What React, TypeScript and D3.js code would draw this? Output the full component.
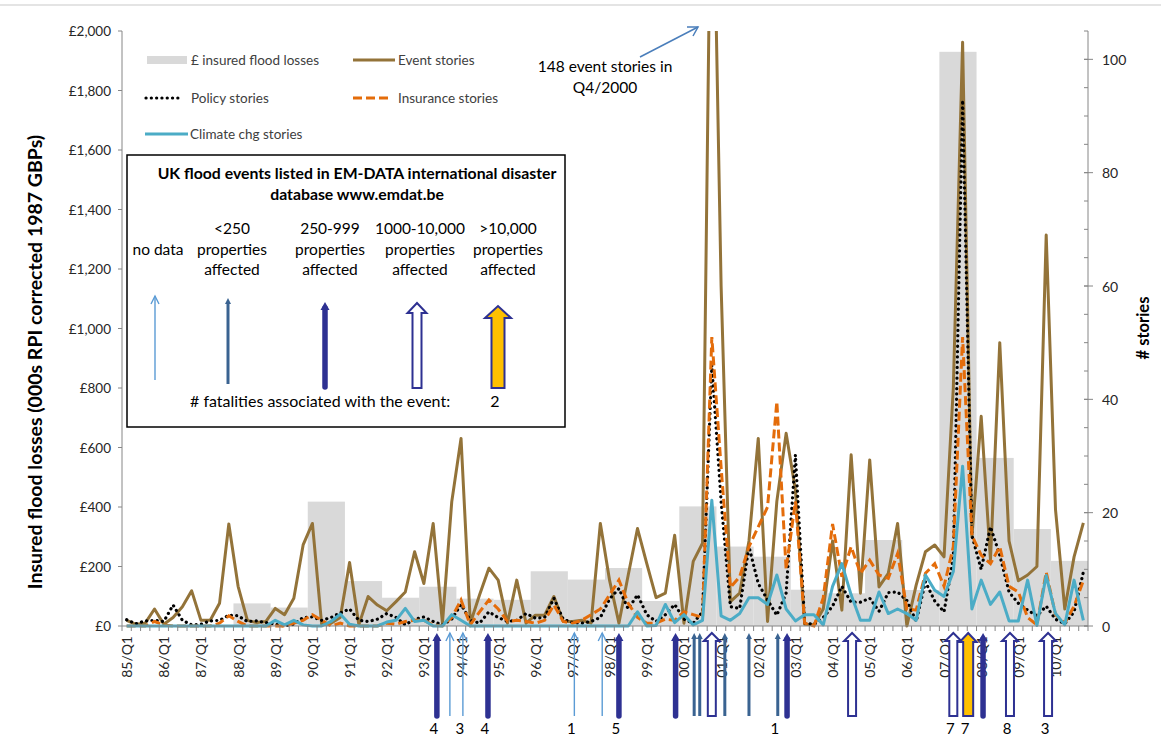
import React from "react";
import * as d3 from "d3";

const W = 1161;
const H = 756;

// ---- categories ----
const years = d3.range(1985, 2011);
const quarterLabels: string[] = years.flatMap((y) =>
  [1, 2, 3, 4].map((q) => `${String(y % 100).padStart(2, "0")}/Q${q}`)
);

// ---- axis ticks ----
const leftTicks = [0, 200, 400, 600, 800, 1000, 1200, 1400, 1600, 1800, 2000];
const rightTicks = [0, 20, 40, 60, 80, 100];
const rightMinor = d3.range(0, 106, 5);

// ---- annual insured flood losses (000s GBP, 1987 prices), 1985..2010 ----
const annualLosses: (number | null)[] = [
  null, null, null, 76, 62, 418, 151, 95, 132, 92, 88, 184, 156, 195, 84,
  402, 267, 233, 122, 110, 289, 121, 1930, 565, 326, 219,
];

// ---- quarterly story counts 85/Q1 .. 10/Q4 ----
const eventStories = [
  1, 0.3, 0.5, 3, 0.3, 1.5, 3.4, 6.2, 1, 1,
  4, 18, 7, 1, 0.6, 0.8, 3.1, 2, 4.9, 14.3,
  18.1, 0.2, 0.5, 1.5, 11.2, 0.2, 5.2, 3.7, 2.7, 4.3,
  6, 13.1, 7.5, 18.1, 0.5, 21.9, 33.1, 0.5, 5.5, 10.2,
  8.1, 0.5, 8.1, 0.5, 1.9, 1.9, 5.2, 0.8, 0.8, 1,
  0.5, 18.1, 8, 0.5, 9, 17.2, 11, 5, 5.8, 16,
  0.5, 11.4, 14.6, 148, 60, 4.3, 5.8, 15, 33.1, 0.8,
  22, 34, 24, 0.3, 0.2, 3, 15, 2.8, 30.2, 5.8,
  29.3, 6.9, 9.3, 18.1, 0, 7.2, 13.1, 14.3, 12.2, 42,
  103, 15.7, 37, 11.6, 50, 15, 8, 9, 10.5, 69,
  20.6, 3, 12.2, 18.2,
];
const policyStories = [
  1.1, 0.4, 0.9, 1, 0.8, 3.7, 1, 0.2, 0.3, 0.9,
  1, 1.9, 1.8, 0.8, 0.9, 0.6, 0.3, 0, 0.3, 1.5,
  1.6, 1, 1.5, 2.3, 3, 1, 0.8, 1.2, 2.2, 1.5,
  0.2, 1.2, 1.6, 0.8, 0.2, 1.2, 3.8, 1, 0.5, 2.5,
  1.5, 0.8, 1, 2.2, 1.4, 1.5, 4.9, 1.2, 0.6, 0.5,
  0.8, 1.5, 4.8, 6.6, 3, 5.5, 2, 0.8, 2, 3.8,
  1.2, 0.5, 2.5, 46, 22, 3.4, 3.1, 14, 7.5, 4.6,
  1.9, 5.8, 30.2, 0.5, 0.3, 1.5, 3.5, 7, 4.2, 4.2,
  4.9, 2.6, 5.9, 6, 4.5, 0.8, 7.8, 4.4, 2.5, 12,
  92.8, 16, 10, 17.5, 12.5, 6, 4, 2.8, 1.8, 3.5,
  1.2, 0.4, 2.5, 9.5,
];
const insuranceStories = [
  0, 0, 0, 0.8, 0.2, 0, 0, 0, 0, 0,
  0.5, 1.8, 0.8, 0, 0, 0, 0, 0, 0.5, 1,
  2, 1, 0, 0.5, 0, 0, 0, 0, 0.5, 0.3,
  0.8, 1, 1, 0.2, 0, 1.5, 4.6, 0.2, 2.5, 4.6,
  3, 0.8, 1, 0.8, 0.5, 1, 3.7, 0.8, 0.5, 1,
  2, 3, 5.5, 8.1, 4, 1.5, 0.5, 0.5, 1.2, 1,
  2.5, 2, 1.5, 51, 28, 6.8, 8.7, 14, 17.5, 21,
  39.6, 10, 22, 0.5, 0, 5, 18, 8.7, 14, 9.3,
  11.6, 9, 8.4, 12.8, 3, 2.8, 9.3, 11, 7, 14,
  51, 16, 12.5, 11, 14, 7, 6, 1.5, 0.2, 9.5,
  2, 0.5, 3.5, 8,
];
const climateStories = [
  0, 0, 0, 0, 0, 0, 0, 0, 0, 0,
  0, 0, 0, 0, 0, 0, 1, 0.2, 1, 0.2,
  0, 0, 0.8, 2.1, 0.3, 0, 0, 0, 0.7, 1,
  3.1, 0.8, 1, 0, 0, 2, 1, 0, 0, 0,
  0, 0, 0, 0, 0, 0, 0, 0, 0, 0,
  0, 0, 0, 0, 0, 2.5, 0, 0.1, 3.8, 0.6,
  2, 0.2, 1, 22.2, 1.8, 1, 2.2, 5, 5, 3.8,
  9, 3, 0.9, 2, 2, 0.2, 7, 11, 5.5, 1,
  1, 6, 2.2, 3, 2.2, 1, 9, 6.3, 5.2, 9.6,
  28.2, 3, 8.1, 3.8, 6, 0.9, 0.9, 8.1, 0.1, 8.9,
  2.2, 0.2, 8.1, 1,
];

// ---- EM-DAT flood events (position in quarters from 85/Q1) ----
const eventPos = [33.4, 34.8, 36.2, 38.9, 48.2, 51.2, 53.0, 59.1, 61.1, 61.7, 63.0, 64.4, 67.0, 70.1, 71.1, 78.1, 89.0, 90.6, 92.2, 95.1, 99.2];
const eventType = ["m", "n", "n", "m", "n", "n", "m", "m", "s", "s", "l", "s", "s", "s", "m", "l", "l", "x", "m", "l", "l"];
const eventDeaths = ["4", "", "3", "4", "1", "", "5", "", "", "", "", "", "", "1", "", "", "7", "7", "", "8", "3"];

// ---- legend texts ----
const legendCats = [
  { t: "n", lines: ["no data"] },
  { t: "s", lines: ["<250", "properties", "affected"] },
  { t: "m", lines: ["250-999", "properties", "affected"] },
  { t: "l", lines: ["1000-10,000", "properties", "affected"] },
  { t: "x", lines: [">10,000", "properties", "affected"] },
];

const FONT = "Lato, 'Open Sans', sans-serif";
const INDIGO = "#2e3192";

function EventArrow({ x, top, bottom, t, big = false }: { x: number; top: number; bottom: number; t: string; big?: boolean }) {
  if (t === "n") {
    return (
      <g stroke="#5b9bd5" strokeWidth={1.4} fill="none">
        <line x1={x} y1={bottom} x2={x} y2={top} />
        <polyline points={`${x - 4},${top + 8} ${x},${top} ${x + 4},${top + 8}`} />
      </g>
    );
  }
  if (t === "s") {
    return (
      <g>
        <line x1={x} y1={bottom} x2={x} y2={top + 5} stroke="#3a6391" strokeWidth={3} />
        <polygon points={`${x - 3},${top + 6} ${x},${top} ${x + 3},${top + 6}`} fill="#3a6391" />
      </g>
    );
  }
  if (t === "m") {
    return (
      <g>
        <line x1={x} y1={bottom} x2={x} y2={top + 6} stroke={INDIGO} strokeWidth={5.5} strokeLinecap="round" />
        <polygon points={`${x - 4.5},${top + 8} ${x},${top} ${x + 4.5},${top + 8}`} fill={INDIGO} />
      </g>
    );
  }
  const sw = t === "l" ? (big ? 4.5 : 4) : big ? 6.5 : 5;
  const hw = t === "l" ? (big ? 9.5 : 8) : big ? 13 : 8.5;
  const hh = t === "l" ? (big ? 10 : 8) : big ? 12 : 9;
  const pts = [
    [x - sw, bottom],
    [x - sw, top + hh],
    [x - hw, top + hh],
    [x, top],
    [x + hw, top + hh],
    [x + sw, top + hh],
    [x + sw, bottom],
  ]
    .map((p) => p.join(","))
    .join(" ");
  return <polygon points={pts} fill={t === "l" ? "#fff" : "#ffc000"} stroke={INDIGO} strokeWidth={2} strokeLinejoin="miter" />;
}

export default function App() {
  const left = 122;
  const right = 1088;
  const top = 31;
  const bottom = 626;

  const x = d3.scaleBand<string>().domain(quarterLabels).range([left, right]).padding(0);
  const bw = x.bandwidth();
  const cx = (i: number) => (x(quarterLabels[i]) as number) + bw / 2;
  const posX = (p: number) => (x(quarterLabels[0]) as number) + x.step() * (p + 0.5);
  const yL = d3.scaleLinear().domain([0, 2000]).range([bottom, top]);
  const yR = d3.scaleLinear().domain([0, 105]).range([bottom, top]);

  const line = d3
    .line<number>()
    .x((_, i) => cx(i))
    .y((d) => yR(d));

  const fmtL = (v: number) => "£" + d3.format(",")(v);

  return (
    <svg width={W} height={H} style={{ position: "absolute", left: 0, top: 0, background: "#fff" }} fontFamily={FONT}>
      <rect x={0} y={0} width={W} height={H} fill="#fff" />
      <line x1={0} x2={W} y1={5} y2={5} stroke="#e4e4e4" strokeWidth={2} />
      <defs>
        <clipPath id="plotClip">
          <rect x={left} y={top} width={right - left} height={bottom - top + 8} />
        </clipPath>
      </defs>

      {/* annual loss bars */}
      {annualLosses.map((v, k) =>
        v == null ? null : (
          <rect
            key={k}
            x={x(quarterLabels[k * 4]) as number}
            width={bw * 4}
            y={yL(v)}
            height={bottom - yL(v)}
            fill="#d9d9d9"
          />
        )
      )}

      {/* axes */}
      <line x1={left} x2={left} y1={top} y2={bottom} stroke="#868686" strokeWidth={1} />
      <line x1={right} x2={right} y1={top} y2={bottom} stroke="#868686" strokeWidth={1} />
      {leftTicks.map((t) => (
        <g key={t}>
          <line x1={left - 4} x2={left} y1={yL(t)} y2={yL(t)} stroke="#868686" />
          <text x={left - 11} y={yL(t)} textAnchor="end" dominantBaseline="central" fontSize={13.5} fill="#262626">
            {fmtL(t)}
          </text>
        </g>
      ))}
      {rightMinor.map((t) => (
        <line key={t} x1={right - 4} x2={right} y1={yR(t)} y2={yR(t)} stroke="#868686" />
      ))}
      {rightTicks.map((t) => (
        <g key={t}>
          <line x1={right - 4} x2={right + 5} y1={yR(t)} y2={yR(t)} stroke="#868686" />
          <text x={right + 14} y={yR(t)} dominantBaseline="central" fontSize={14} fill="#262626">
            {t}
          </text>
        </g>
      ))}

      {/* story lines */}
      <g clipPath="url(#plotClip)" fill="none">
        <path d={line(eventStories) || ""} stroke="#937339" strokeWidth={3} strokeLinejoin="round" />
        <path d={line(policyStories) || ""} stroke="#000" strokeWidth={3.2} strokeDasharray="0.1 5.2" strokeLinecap="round" />
        <path d={line(insuranceStories) || ""} stroke="#e46c0a" strokeWidth={3} strokeDasharray="9 4" />
        <path d={line(climateStories) || ""} stroke="#4bacc6" strokeWidth={3} strokeLinejoin="round" />
      </g>

      {/* x axis */}
      <line x1={left} x2={right} y1={bottom} y2={bottom} stroke="#868686" />
      {d3.range(quarterLabels.length + 1).map((i) => (
        <line key={i} x1={left + i * x.step()} x2={left + i * x.step()} y1={bottom} y2={bottom + 5} stroke="#868686" />
      ))}
      {quarterLabels.map((q, i) =>
        q.endsWith("Q1") ? (
          <text
            key={q}
            transform={`translate(${cx(i)},${bottom + 10}) rotate(-90)`}
            textAnchor="end"
            dominantBaseline="central"
            fontSize={14}
            fill="#262626"
          >
            {q}
          </text>
        ) : null
      )}

      {/* event arrows */}
      {eventPos.map((p, i) => (
        <EventArrow key={i} x={posX(p)} top={633} bottom={716} t={eventType[i]} />
      ))}
      {eventPos.map((p, i) =>
        eventDeaths[i] ? (
          <text key={"d" + i} x={posX(p) - 3} y={728} textAnchor="middle" dominantBaseline="central" fontSize={15} fill="#000">
            {eventDeaths[i]}
          </text>
        ) : null
      )}

      {/* axis titles */}
      <text transform="translate(34,362) rotate(-90)" textAnchor="middle" dominantBaseline="central" fontSize={19.5} fontWeight="bold" fill="#000">
        Insured flood losses (000s RPI corrected 1987 GBPs)
      </text>
      <text transform="translate(1143,328) rotate(-90)" textAnchor="middle" dominantBaseline="central" fontSize={16.5} fontWeight="bold" fill="#000">
        # stories
      </text>

      {/* series legend */}
      <g fontSize={13.5} fill="#404040">
        <rect x={147} y={56} width={40} height={8} fill="#d9d9d9" />
        <text x={191} y={60} dominantBaseline="central">£ insured flood losses</text>
        <line x1={353} x2={395} y1={60} y2={60} stroke="#937339" strokeWidth={3} />
        <text x={398} y={60} dominantBaseline="central">Event stories</text>
        <line x1={146} x2={180} y1={98} y2={98} stroke="#000" strokeWidth={3.2} strokeDasharray="0.1 5.2" strokeLinecap="round" />
        <text x={191} y={98} dominantBaseline="central">Policy stories</text>
        <line x1={353} x2={392} y1={98} y2={98} stroke="#e46c0a" strokeWidth={3} strokeDasharray="9 4" />
        <text x={398} y={98} dominantBaseline="central">Insurance stories</text>
        <line x1={145} x2={188} y1={134} y2={134} stroke="#4bacc6" strokeWidth={3} />
        <text x={190} y={134} dominantBaseline="central">Climate chg stories</text>
      </g>

      {/* EM-DAT legend box */}
      <rect x={127} y={155} width={438} height={272} fill="#fff" stroke="#000" strokeWidth={1.5} />
      <text x={357} y={172} textAnchor="middle" dominantBaseline="central" fontSize={15.8} fontWeight="bold" fill="#000">
        UK flood events listed in EM-DATA international disaster
      </text>
      <text x={357} y={193} textAnchor="middle" dominantBaseline="central" fontSize={15.8} fontWeight="bold" fill="#000">
        database www.emdat.be
      </text>
      {legendCats.map((c, i) => {
        const lx = [158, 232, 330, 420, 508][i];
        const ax = [155, 228, 325, 417, 498][i];
        const ly = c.lines.length === 1 ? [249] : [228, 249, 269];
        return (
          <g key={i}>
            {c.lines.map((s, j) => (
              <text key={j} x={lx} y={ly[j]} textAnchor="middle" dominantBaseline="central" fontSize={15.5} fill="#000">
                {s}
              </text>
            ))}
            <EventArrow x={ax} top={[296, 298, 302, 303, 306][i]} bottom={[380, 384, 387, 388, 388][i]} t={c.t} big />
          </g>
        );
      })}
      <text x={190} y={400} dominantBaseline="central" fontSize={16} fill="#000">
        # fatalities associated with the event:
      </text>
      <text x={495} y={400} textAnchor="middle" dominantBaseline="central" fontSize={16} fill="#000">
        2
      </text>

      {/* annotation */}
      <text x={605} y={66} textAnchor="middle" dominantBaseline="central" fontSize={15.5} fill="#000">
        148 event stories in
      </text>
      <text x={605} y={87} textAnchor="middle" dominantBaseline="central" fontSize={15.5} fill="#000">
        Q4/2000
      </text>
      <g stroke="#4a7ebb" strokeWidth={1.5} fill="none">
        <line x1={640} y1={57} x2={698} y2={27} />
        <polyline points="687,27 698,27 693,36" />
      </g>
    </svg>
  );
}
